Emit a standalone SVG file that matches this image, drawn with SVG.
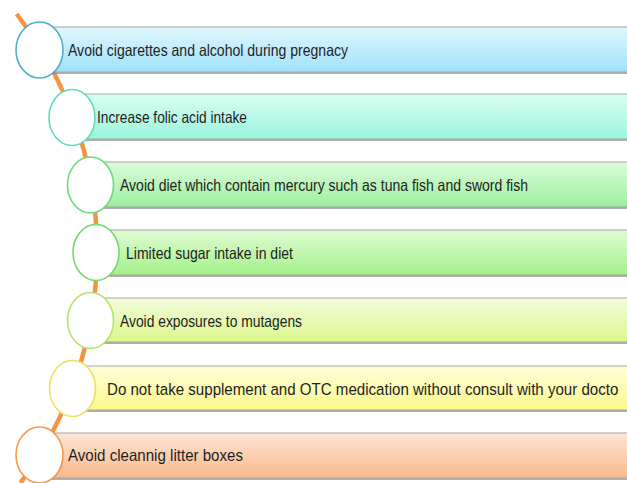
<svg xmlns="http://www.w3.org/2000/svg" width="627" height="483" viewBox="0 0 627 483">
<defs>
<linearGradient id="g1" x1="0" y1="0" x2="0" y2="1"><stop offset="0" stop-color="#e2f6fd"/><stop offset="1" stop-color="#9ee2fa"/></linearGradient>
<linearGradient id="g2" x1="0" y1="0" x2="0" y2="1"><stop offset="0" stop-color="#dcfdf2"/><stop offset="1" stop-color="#98f5dd"/></linearGradient>
<linearGradient id="g3" x1="0" y1="0" x2="0" y2="1"><stop offset="0" stop-color="#dcfbdc"/><stop offset="1" stop-color="#9cef9c"/></linearGradient>
<linearGradient id="g4" x1="0" y1="0" x2="0" y2="1"><stop offset="0" stop-color="#e0fcd4"/><stop offset="1" stop-color="#a4f08a"/></linearGradient>
<linearGradient id="g5" x1="0" y1="0" x2="0" y2="1"><stop offset="0" stop-color="#f3fcdc"/><stop offset="1" stop-color="#dbf68c"/></linearGradient>
<linearGradient id="g6" x1="0" y1="0" x2="0" y2="1"><stop offset="0" stop-color="#fffedc"/><stop offset="1" stop-color="#fbf98a"/></linearGradient>
<linearGradient id="g7" x1="0" y1="0" x2="0" y2="1"><stop offset="0" stop-color="#fde6d6"/><stop offset="1" stop-color="#f9b98a"/></linearGradient>
</defs>
<style>
.sh{fill:#7a7a7a;opacity:0.6}
.bar{stroke:#a6a6a6;stroke-width:1}
.c{fill:#ffffff;stroke-width:1.6}
.t{font-family:"Liberation Sans",Arial,sans-serif;font-size:16.5px;fill:#1e1e1e}
.link{fill:none;stroke:#f7923f;stroke-width:4.5}
</style>
<rect width="627" height="483" fill="#ffffff"/>
<g id="connectors">
<path class="link" d="M 16.6 14 A 389.3 389.3 0 0 1 20.4 483"/>
</g>
<g id="node1">
<rect class="sh" x="40" y="29" width="600" height="45"/>
<rect class="bar" x="40" y="27" width="600" height="45" fill="url(#g1)"/>
<ellipse class="c" cx="39.5" cy="50" rx="23.5" ry="28" stroke="#4eaecb"/>
<text class="t" x="68" y="56" textLength="280" lengthAdjust="spacingAndGlyphs">Avoid cigarettes and alcohol during pregnacy</text>
</g>
<g id="node2">
<rect class="sh" x="72" y="96" width="570" height="45"/>
<rect class="bar" x="72" y="94" width="570" height="45" fill="url(#g2)"/>
<ellipse class="c" cx="72" cy="117.5" rx="23" ry="28" stroke="#62dbb6"/>
<text class="t" x="97" y="122.5" textLength="150" lengthAdjust="spacingAndGlyphs">Increase folic acid intake</text>
</g>
<g id="node3">
<rect class="sh" x="90" y="164" width="550" height="45"/>
<rect class="bar" x="90" y="162" width="550" height="45" fill="url(#g3)"/>
<ellipse class="c" cx="90.5" cy="185" rx="23" ry="28" stroke="#6fda7c"/>
<text class="t" x="120" y="191" textLength="408" lengthAdjust="spacingAndGlyphs">Avoid diet which contain mercury such as tuna fish and sword fish</text>
</g>
<g id="node4">
<rect class="sh" x="96" y="232" width="544" height="45"/>
<rect class="bar" x="96" y="230" width="544" height="45" fill="url(#g4)"/>
<ellipse class="c" cx="96" cy="252.5" rx="23" ry="28" stroke="#74da6c"/>
<text class="t" x="126" y="259" textLength="167" lengthAdjust="spacingAndGlyphs">Limited sugar intake in diet</text>
</g>
<g id="node5">
<rect class="sh" x="90" y="300" width="550" height="44"/>
<rect class="bar" x="90" y="298" width="550" height="44" fill="url(#g5)"/>
<ellipse class="c" cx="90.5" cy="320.5" rx="23" ry="28" stroke="#b8e46c"/>
<text class="t" x="120" y="326.5" textLength="182" lengthAdjust="spacingAndGlyphs">Avoid exposures to mutagens</text>
</g>
<g id="node6">
<rect class="sh" x="72" y="368" width="570" height="44"/>
<rect class="bar" x="72" y="366" width="570" height="44" fill="url(#g6)"/>
<ellipse class="c" cx="72.5" cy="388.5" rx="23" ry="28" stroke="#f0e060"/>
<text class="t" transform="translate(107 394.5) scale(0.915 1)" x="0" y="0">Do not take supplement and OTC medication without consult with your docto</text>
</g>
<g id="node7">
<rect class="sh" x="40" y="435" width="600" height="45"/>
<rect class="bar" x="40" y="433" width="600" height="45" fill="url(#g7)"/>
<ellipse class="c" cx="39.5" cy="455" rx="23.5" ry="28" stroke="#f7974a"/>
<text class="t" x="68" y="461" textLength="175" lengthAdjust="spacingAndGlyphs">Avoid cleannig litter boxes</text>
</g>
</svg>
